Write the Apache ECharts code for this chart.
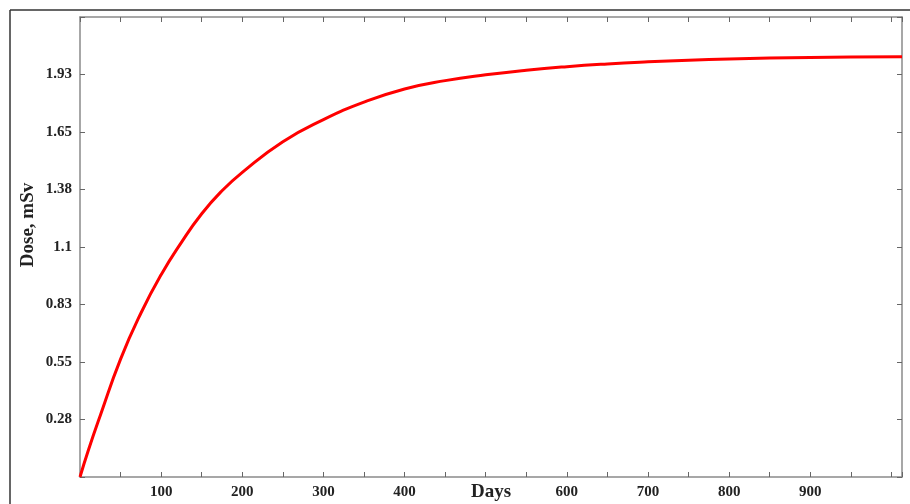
<!DOCTYPE html>
<html>
<head>
<meta charset="utf-8">
<title>Dose vs Days</title>
<script src="https://cdn.jsdelivr.net/npm/echarts@6/dist/echarts.min.js"></script>
<style>
  html, body { margin: 0; padding: 0; background: #fff; }
  #chart { width: 910px; height: 504px; }
</style>
</head>
<body>
<div id="chart"></div>
<script>
// values
const days = [0, 10, 25, 50, 75, 100, 125, 150, 175, 200, 250, 300, 350, 400, 450, 500, 550, 600, 650, 700, 750, 800, 850, 900, 950, 1013]
const dose = [0, 0.125, 0.295, 0.565, 0.785, 0.97, 1.125, 1.262, 1.372, 1.46, 1.607, 1.713, 1.797, 1.86, 1.9, 1.928, 1.95, 1.967, 1.98, 1.99, 1.998, 2.004, 2.008, 2.011, 2.013, 2.014]
const xLabels = [100, 200, 300, 400, 600, 700, 800, 900]
const yMax = 2.205
const yStep = yMax / 8

const serif = '"Liberation Serif", "DejaVu Serif", serif'
const axisGray = '#8a8a8a'

const chart = echarts.init(document.getElementById('chart'))

const axisCommon = {
  axisLine: { show: true, onZero: false, lineStyle: { color: axisGray, width: 1.5 } },
  axisTick: { show: true, inside: true, length: 5, lineStyle: { color: '#666', width: 1 } },
  splitLine: { show: false }
}

const option = {
  animation: false,
  backgroundColor: '#fff',
  grid: { left: 80, right: 8, top: 17, bottom: 27, containLabel: false, outerBoundsMode: 'none' },
  xAxis: [
    {
      type: 'value',
      position: 'bottom',
      min: 0,
      max: 1013,
      interval: 50,
      ...axisCommon,
      axisLabel: {
        margin: 8,
        color: '#222',
        fontFamily: serif,
        fontWeight: 'bold',
        fontSize: 15,
        formatter: v => xLabels.includes(Math.round(v)) && Math.abs(v - Math.round(v)) < 1e-6 ? String(Math.round(v)) : ''
      },
      name: 'Days',
      nameLocation: 'middle',
      nameGap: 6,
      nameMoveOverlap: false,
      nameTextStyle: { color: '#222', fontFamily: serif, fontWeight: 'bold', fontSize: 19 }
    },
    {
      type: 'value',
      position: 'top',
      min: 0,
      max: 1013,
      interval: 50,
      ...axisCommon,
      axisLabel: { show: false }
    }
  ],
  yAxis: [
    {
      type: 'value',
      position: 'left',
      min: 0,
      max: yMax,
      interval: yStep,
      ...axisCommon,
      axisLabel: {
        margin: 8,
        color: '#222',
        fontFamily: serif,
        fontWeight: 'bold',
        fontSize: 15,
        formatter: v => (v <= 1e-6 || v >= yMax - 1e-6) ? '' : String(parseFloat(v.toFixed(2)))
      }
    },
    {
      type: 'value',
      position: 'right',
      min: 0,
      max: yMax,
      interval: yStep,
      ...axisCommon,
      axisLabel: { show: false }
    }
  ],
  graphic: [
    {
      type: 'line',
      shape: { x1: 10, y1: 10, x2: 910, y2: 10 },
      style: { stroke: '#333', lineWidth: 1.5 }
    },
    {
      type: 'line',
      shape: { x1: 10, y1: 10, x2: 10, y2: 504 },
      style: { stroke: '#333', lineWidth: 1.5 }
    },
    {
      type: 'text',
      x: 28,
      y: 225,
      rotation: Math.PI / 2,
      style: {
        text: 'Dose, mSv',
        fill: '#222',
        font: 'bold 19px ' + serif,
        align: 'center',
        verticalAlign: 'middle'
      }
    }
  ],
  series: [
    {
      type: 'line',
      xAxisIndex: 0,
      yAxisIndex: 0,
      data: days.map((d, i) => [d, dose[i]]),
      smooth: true,
      showSymbol: false,
      lineStyle: { color: '#ff0000', width: 3 },
      clip: true
    }
  ]
}

chart.setOption(option)
</script>
</body>
</html>
